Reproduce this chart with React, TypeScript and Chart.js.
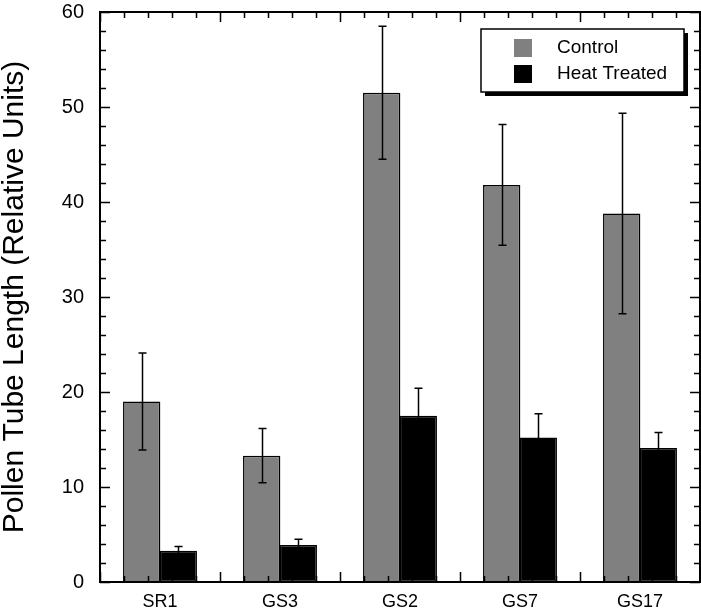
import React, { useEffect, useRef } from 'react';
import { Chart, registerables } from 'chart.js';

Chart.register(...registerables);

const categories = ['SR1', 'GS3', 'GS2', 'GS7', 'GS17'];
const controlValues = [19.0, 13.3, 51.5, 41.8, 38.8];
const controlErrors = [5.1, 2.85, 7.0, 6.35, 10.55];
const heatValues = [3.3, 3.9, 17.5, 15.2, 14.1];
const heatErrors = [0.45, 0.6, 2.9, 2.5, 1.65];
const seriesNames = ['Control', 'Heat Treated'];
const seriesColors = ['#808080', '#000000'];
const yTickValues = [0, 10, 20, 30, 40, 50, 60];
const yTitle = 'Pollen Tube Length (Relative Units)';

const FONT = '"Liberation Sans", Arial, Helvetica, sans-serif';

const errorBarPlugin = {
  id: 'errorBars',
  afterDatasetsDraw(chart: any) {
    const { ctx } = chart;
    const yScale = chart.scales.y;
    const errs = [controlErrors, heatErrors];
    chart.data.datasets.forEach((ds: any, i: number) => {
      const meta = chart.getDatasetMeta(i);
      meta.data.forEach((el: any, j: number) => {
        const v = ds.data[j];
        const e = errs[i][j];
        const x = Math.round(el.x) + 0.5;
        const yHi = yScale.getPixelForValue(v + e);
        const yLo = yScale.getPixelForValue(v - e);
        ctx.save();
        ctx.strokeStyle = '#000';
        ctx.lineWidth = 1.5;
        ctx.beginPath();
        ctx.moveTo(x, yHi);
        ctx.lineTo(x, yLo);
        ctx.moveTo(x - 4, yHi);
        ctx.lineTo(x + 4, yHi);
        ctx.moveTo(x - 4, yLo);
        ctx.lineTo(x + 4, yLo);
        ctx.stroke();
        ctx.restore();
      });
    });
  },
};

const framePlugin = {
  id: 'frameTicks',
  afterDatasetsDraw(chart: any) {
    const { ctx, chartArea } = chart;
    const { left, right, top, bottom } = chartArea;
    const yScale = chart.scales.y;
    ctx.save();
    ctx.strokeStyle = '#000';
    ctx.lineWidth = 1.5;
    ctx.beginPath();
    for (let v = 0; v <= 60; v += 2) {
      const y = Math.round(yScale.getPixelForValue(v)) + 0.5;
      const len = v % 10 === 0 ? 10 : 6;
      ctx.moveTo(left, y);
      ctx.lineTo(left + len, y);
      ctx.moveTo(right, y);
      ctx.lineTo(right - len, y);
    }
    const n = categories.length * 5;
    const step = (right - left) / n;
    for (let k = 0; k <= n; k++) {
      const x = Math.round(left + k * step) + 0.5;
      const len = k % 5 === 0 ? 10 : 6;
      ctx.moveTo(x, top);
      ctx.lineTo(x, top + len);
      ctx.moveTo(x, bottom);
      ctx.lineTo(x, bottom - len);
    }
    ctx.stroke();
    ctx.lineWidth = 2;
    ctx.strokeRect(left, top, right - left, bottom - top);
    ctx.restore();
  },
};

const legendPlugin = {
  id: 'boxLegend',
  afterDraw(chart: any) {
    const { ctx } = chart;
    const bx = 481, by = 29, bw = 203, bh = 63;
    ctx.save();
    ctx.fillStyle = '#000';
    ctx.fillRect(bx + 4, by + 4, bw, bh);
    ctx.fillStyle = '#fff';
    ctx.fillRect(bx, by, bw, bh);
    ctx.strokeStyle = '#000';
    ctx.lineWidth = 1.5;
    ctx.strokeRect(bx, by, bw, bh);
    ctx.font = `19px ${FONT}`;
    ctx.textBaseline = 'middle';
    ctx.textAlign = 'left';
    seriesNames.forEach((name, i) => {
      const cy = 48 + i * 26;
      ctx.fillStyle = seriesColors[i];
      ctx.fillRect(514, cy - 9, 18, 18);
      ctx.fillStyle = '#000';
      ctx.fillText(name, 557, cy);
    });
    ctx.restore();
  },
};

export default function App() {
  const canvasRef = useRef<HTMLCanvasElement | null>(null);

  useEffect(() => {
    if (!canvasRef.current) return;
    const chart = new Chart(canvasRef.current, {
      type: 'bar',
      data: {
        labels: categories,
        datasets: [
          {
            label: seriesNames[0],
            data: controlValues,
            backgroundColor: seriesColors[0],
            borderColor: '#000',
            borderWidth: 1.5,
            borderSkipped: false,
          },
          {
            label: seriesNames[1],
            data: heatValues,
            backgroundColor: seriesColors[1],
            borderColor: '#000',
            borderWidth: 1.5,
            borderSkipped: false,
          },
        ],
      },
      options: {
        animation: false,
        responsive: true,
        maintainAspectRatio: false,
        layout: { padding: { top: 12, right: 1, left: 0, bottom: 0 } },
        datasets: { bar: { categoryPercentage: 0.61, barPercentage: 1.02 } },
        plugins: {
          legend: { display: false },
          tooltip: { enabled: false },
        },
        scales: {
          x: {
            grid: { display: false, drawTicks: false },
            border: { display: false },
            ticks: {
              color: '#000',
              font: { family: FONT, size: 18 },
              padding: 9,
              maxRotation: 0,
            },
            afterFit(scale: any) {
              scale.height = 30;
              scale.paddingLeft = 0;
              scale.paddingRight = 0;
            },
          },
          y: {
            min: 0,
            max: 60,
            grid: { display: false, drawTicks: false },
            border: { display: false },
            afterBuildTicks(scale: any) {
              scale.ticks = yTickValues.map((v) => ({ value: v }));
            },
            ticks: {
              color: '#000',
              font: { family: FONT, size: 20 },
              padding: 16,
            },
            title: {
              display: true,
              text: yTitle,
              color: '#000',
              font: { family: FONT, size: 30, lineHeight: 1.0 },
              padding: { top: 0, bottom: 0 },
            },
            afterFit(scale: any) {
              scale.width = 100;
              scale.paddingTop = 0;
              scale.paddingBottom = 0;
            },
          },
        },
      },
      plugins: [framePlugin, errorBarPlugin, legendPlugin],
    });
    return () => chart.destroy();
  }, []);

  return (
    <div style={{ position: 'fixed', left: 0, top: 0, width: 701, height: 612, background: '#fff' }}>
      <canvas ref={canvasRef} />
    </div>
  );
}
